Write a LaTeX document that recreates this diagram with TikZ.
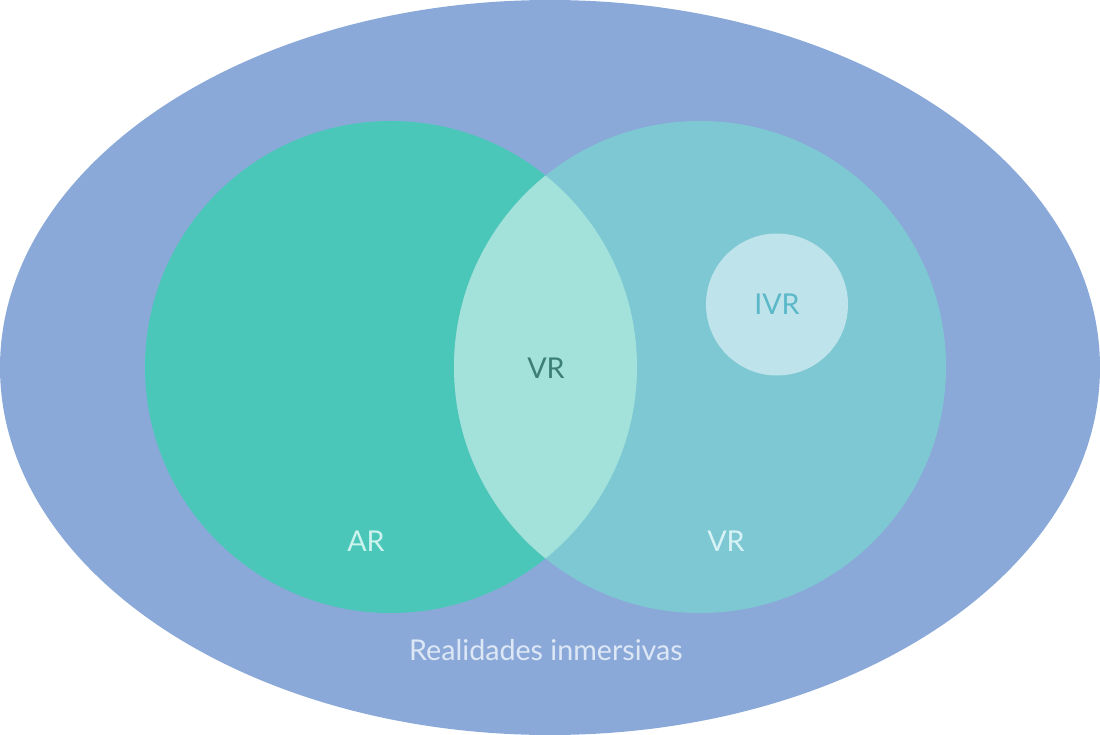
\documentclass[tikz,border=0pt]{standalone}
\usepackage{fontspec}
\setmainfont{Lato}
\definecolor{outerblue}{HTML}{8AA9D8}
\definecolor{arteal}{HTML}{4AC7B8}
\definecolor{vrcyan}{HTML}{7DC8D3}
\definecolor{overlap}{HTML}{A3E2DB}
\definecolor{ivrfill}{HTML}{BEE3EA}
\definecolor{ivrtext}{HTML}{5BB8C9}
\definecolor{midtext}{HTML}{3B7F78}
\definecolor{artext}{HTML}{CDF3EE}
\definecolor{vrtext}{HTML}{D8F3F6}
\definecolor{outertext}{HTML}{DDE7F5}
\tikzset{every picture/.style={line width=0.75pt}}
\tikzset{lbl/.style={inner sep=0.75pt, font=\fontsize{21.5}{25}\selectfont}}

\begin{document}
\begin{tikzpicture}[x=0.75pt,y=0.75pt,yscale=-1]
        \useasboundingbox (0,0) rectangle (1100,735);
        
        %Shape: Ellipse (outer set)
        \fill [outerblue] (550,367.5) ellipse (550 and 367.5);
        %Shape: Circle (AR)
        \fill [arteal] (391,367) circle (246);
        %Shape: Circle (VR)
        \fill [vrcyan] (700,367) circle (246);
        %Shape: Lens (overlap)
        \begin{scope}
          \clip (391,367) circle (246);
          \fill [overlap] (700,367) circle (246);
        \end{scope}
        %Shape: Circle (IVR)
        \fill [ivrfill] (777,304.5) circle (71);
        
        % Text Node
        \node [lbl, text=midtext] (mid) at (546,368) {VR};
        % Text Node
        \node [lbl, text=ivrtext] (ivr) at (777,304) {IVR};
        % Text Node
        \node [lbl, text=artext] (ar) at (366,541) {AR};
        % Text Node
        \node [lbl, text=vrtext] (vr) at (726,541) {VR};
        % Text Node
        \node [lbl, text=outertext] (outer) at (546,650) {Realidades inmersivas};
        
\end{tikzpicture}
\end{document}
